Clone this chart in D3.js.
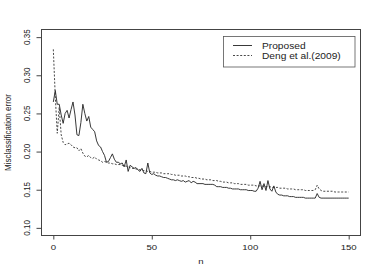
<!DOCTYPE html>
<html lang="en">
<head>
<meta charset="UTF-8">
<title>Misclassification error</title>
<script src="https://d3js.org/d3.v7.min.js"></script>
<style>
  body { margin: 0; background: #fff; }
  svg text { font-family: "Liberation Sans", Arial, sans-serif; fill: #222; }
</style>
</head>
<body>
<script>
// misclassification error vs n, two methods
var w = 382, h = 273;
var sx = 1.2; // text is a little stretched horizontally in the original

var nValues = d3.range(0, 151);
var xTicks = [0, 50, 100, 150];
var yTicks = [0.10, 0.15, 0.20, 0.25, 0.30, 0.35];
var seriesNames = ['Proposed', 'Deng et al.(2009)'];

var proposed = [
  0.265,0.280,0.262,0.262,0.248,0.237,0.250,0.254,0.244,0.255,
  0.265,0.248,0.222,0.221,0.238,0.262,0.250,0.240,0.246,0.232,
  0.229,0.226,0.214,0.208,0.206,0.200,0.195,0.186,0.187,0.192,
  0.197,0.190,0.186,0.186,0.184,0.185,0.180,0.189,0.174,0.182,
  0.180,0.178,0.179,0.176,0.174,0.178,0.172,0.171,0.185,0.172,
  0.170,0.171,0.169,0.168,0.168,0.167,0.166,0.166,0.165,0.164,
  0.163,0.163,0.162,0.163,0.162,0.161,0.162,0.160,0.161,0.162,
  0.159,0.161,0.160,0.158,0.158,0.158,0.158,0.157,0.157,0.157,
  0.157,0.157,0.156,0.154,0.154,0.154,0.153,0.153,0.153,0.152,
  0.152,0.151,0.151,0.151,0.151,0.150,0.150,0.150,0.150,0.149,
  0.149,0.149,0.148,0.148,0.152,0.161,0.150,0.158,0.149,0.162,
  0.151,0.148,0.155,0.147,0.144,0.143,0.143,0.142,0.142,0.142,
  0.141,0.141,0.141,0.140,0.140,0.140,0.140,0.140,0.139,0.139,
  0.139,0.139,0.139,0.139,0.145,0.140,0.139,0.139,0.139,0.139,
  0.139,0.139,0.139,0.139,0.139,0.139,0.139,0.139,0.139,0.139,
  0.139
];

var deng = [
  0.334,0.272,0.224,0.258,0.222,0.212,0.209,0.210,0.211,0.209,
  0.206,0.205,0.205,0.201,0.204,0.198,0.194,0.193,0.195,0.192,
  0.191,0.193,0.190,0.189,0.188,0.186,0.187,0.186,0.185,0.185,
  0.184,0.184,0.183,0.183,0.183,0.182,0.181,0.181,0.180,0.179,
  0.178,0.178,0.177,0.177,0.176,0.176,0.175,0.175,0.174,0.174,
  0.173,0.173,0.173,0.172,0.172,0.172,0.171,0.171,0.171,0.171,
  0.170,0.170,0.169,0.169,0.169,0.168,0.168,0.168,0.167,0.167,
  0.166,0.166,0.166,0.165,0.165,0.164,0.164,0.164,0.163,0.163,
  0.163,0.162,0.162,0.162,0.161,0.161,0.160,0.160,0.160,0.159,
  0.159,0.159,0.158,0.158,0.158,0.157,0.157,0.157,0.157,0.156,
  0.156,0.156,0.156,0.155,0.155,0.155,0.155,0.154,0.154,0.154,
  0.154,0.153,0.153,0.153,0.153,0.152,0.152,0.152,0.152,0.151,
  0.151,0.151,0.151,0.150,0.150,0.150,0.150,0.150,0.149,0.149,
  0.149,0.149,0.149,0.150,0.156,0.151,0.149,0.148,0.148,0.148,
  0.148,0.148,0.148,0.147,0.147,0.147,0.147,0.147,0.147,0.147,
  0.147
];

// plot box (R style, 4% padding)
var box = { left: 41.5, right: 360.5, top: 29.5, bottom: 235.5 };

var xScale = d3.scaleLinear().domain([-6, 156]).range([box.left, box.right]);
var yScale = d3.scaleLinear().domain([0.09, 0.36]).range([box.bottom, box.top]);

var svg = d3.select('body').append('svg')
  .attr('width', w)
  .attr('height', h);

function label(x, y, txt, size, rotate, anchor) {
  var t = 'translate(' + x + ',' + y + ') scale(' + sx + ',1)';
  if (rotate) t += ' rotate(-90)';
  svg.append('text')
    .attr('transform', t)
    .attr('text-anchor', anchor || 'middle')
    .attr('font-size', size)
    .text(txt);
}

// lines
var line = function(vals) {
  return d3.line()
    .x(function(d, i) { return xScale(nValues[i]); })
    .y(function(d) { return yScale(d); })(vals);
};

svg.append('path')
  .attr('d', line(deng))
  .attr('fill', 'none')
  .attr('stroke', '#333')
  .attr('stroke-width', 0.9)
  .attr('stroke-dasharray', '2,1.6');

svg.append('path')
  .attr('d', line(proposed))
  .attr('fill', 'none')
  .attr('stroke', '#222')
  .attr('stroke-width', 0.9);

// box
svg.append('rect')
  .attr('x', box.left)
  .attr('y', box.top)
  .attr('width', box.right - box.left)
  .attr('height', box.bottom - box.top)
  .attr('fill', 'none')
  .attr('stroke', '#444')
  .attr('stroke-width', 1);

// axes
var xAxis = d3.axisBottom(xScale).tickValues(xTicks).tickSize(4).tickFormat('');
var gx = svg.append('g')
  .attr('transform', 'translate(0,' + box.bottom + ')')
  .call(xAxis);
gx.select('.domain').attr('d', 'M' + xScale(0) + ',0H' + xScale(150)).attr('stroke', '#444');
gx.selectAll('.tick line').attr('stroke', '#444');

var yAxis = d3.axisLeft(yScale).tickValues(yTicks).tickSize(5).tickFormat('');
var gy = svg.append('g')
  .attr('transform', 'translate(' + box.left + ',0)')
  .call(yAxis);
gy.select('.domain').attr('d', 'M0,' + yScale(0.10) + 'V' + yScale(0.35)).attr('stroke', '#444');
gy.selectAll('.tick line').attr('stroke', '#444');

xTicks.forEach(function(v) {
  label(xScale(v), 249.6, d3.format('d')(v), 8);
});
yTicks.forEach(function(v) {
  label(30, yScale(v), d3.format('.2f')(v), 8, true);
});

label((box.left + box.right) / 2, 263.8, 'n', 8);
label(10.5, (box.top + box.bottom) / 2, 'Misclassification error', 8, true);

// legend
var lg = { x: 223.5, y: 36.5, w: 131.5, h: 30.5 };
svg.append('rect')
  .attr('x', lg.x).attr('y', lg.y)
  .attr('width', lg.w).attr('height', lg.h)
  .attr('fill', '#fff')
  .attr('stroke', '#555')
  .attr('stroke-width', 0.8);

var rows = [45.5, 55.5];
svg.append('line')
  .attr('x1', 233).attr('x2', 252)
  .attr('y1', rows[0]).attr('y2', rows[0])
  .attr('stroke', '#222').attr('stroke-width', 0.9);
svg.append('line')
  .attr('x1', 233).attr('x2', 252)
  .attr('y1', rows[1]).attr('y2', rows[1])
  .attr('stroke', '#333').attr('stroke-width', 0.9)
  .attr('stroke-dasharray', '2,1.6');

seriesNames.forEach(function(s, i) {
  label(262, rows[i] + 3, s, 8.5, false, 'start');
});
</script>
</body>
</html>
